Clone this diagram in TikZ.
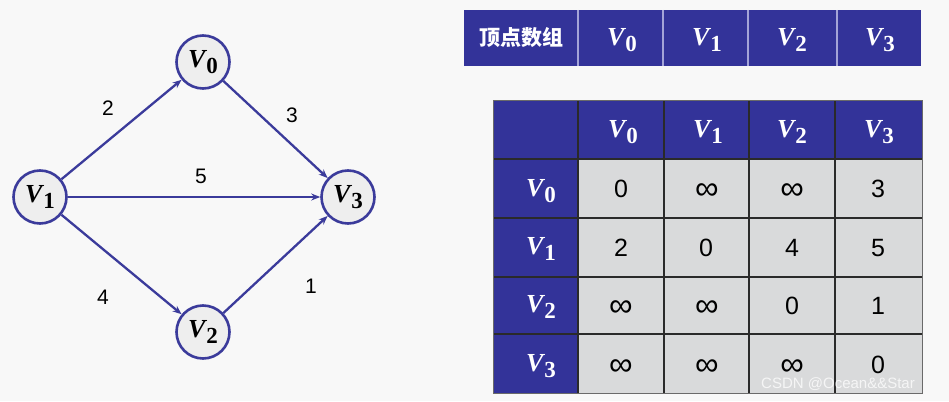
\documentclass[tikz,border=0pt]{standalone}
\usepackage{fontspec}
\usetikzlibrary{arrows.meta}
\newfontfamily\arialf{Liberation Sans}
\newfontfamily\serf{Liberation Serif}
\newfontfamily\cjk{Noto Sans CJK SC}
\definecolor{bg}{HTML}{F8F8F8}
\definecolor{navy}{HTML}{333399}
\definecolor{edgec}{HTML}{3B3B9B}
\definecolor{cellg}{HTML}{D9DADB}
\definecolor{gridc}{HTML}{2A2A2A}
\definecolor{sepc}{HTML}{A4A4D8}
\newcommand{\VV}[1]{{\serf\fontsize{26}{26}\selectfont\bfseries\itshape V}\kern1pt\raisebox{-6pt}{\serf\fontsize{23}{23}\selectfont\bfseries #1}}
\tikzset{
  vert/.style={circle, draw=edgec, line width=2.6pt, fill=bg!96!black, minimum size=53pt, inner sep=0pt, text=black},
  arc/.style={draw=edgec, line width=2.3pt, -{Stealth[length=9pt,width=7pt]}},
  wlab/.style={font=\arialf\fontsize{21}{21}\selectfont, text=black, inner sep=0pt},
  num/.style={font=\arialf\fontsize{25}{25}\selectfont, text=black, inner sep=0pt},
  inf/.style={font=\arialf\fontsize{33}{33}\selectfont, text=black, inner sep=0pt},
  hdr/.style={text=white, inner sep=0pt},
}
\begin{document}
\begin{tikzpicture}[x=1pt,y=-1pt]
\fill[bg] (0,0) rectangle (949,401);
\useasboundingbox (0,0) rectangle (949,401);
% graph
\node[vert] (v0) at (203,62) {\VV{0}};
\node[vert] (v1) at (40,197) {\VV{1}};
\node[vert] (v3) at (348,197) {\VV{3}};
\node[vert] (v2) at (203,332) {\VV{2}};
\draw[arc] (v1) -- (v0);
\draw[arc] (v0) -- (v3);
\draw[arc] (v1) -- (v3);
\draw[arc] (v1) -- (v2);
\draw[arc] (v2) -- (v3);
\node[wlab] (w2) at (108,108) {2};
\node[wlab] (w3) at (292,115) {3};
\node[wlab] (w5) at (201,176) {5};
\node[wlab] (w4) at (103,297) {4};
\node[wlab] (w1) at (311,286) {1};
% top vertex array
\fill[navy] (464,10) rectangle (921,66);
\foreach \x in {578,663,748,837}{\draw[sepc, line width=1.5pt] (\x,10) -- (\x,66);}
\node[hdr, font=\cjk\bfseries\fontsize{21}{21}\selectfont] (arrlab) at (521,38) {顶点数组};
\node[hdr] (a0) at (622,40) {\VV{0}};
\node[hdr] (a1) at (707,40) {\VV{1}};
\node[hdr] (a2) at (792,40) {\VV{2}};
\node[hdr] (a3) at (880,40) {\VV{3}};
% adjacency matrix
\fill[navy] (493,101) rectangle (922,159);
\fill[navy] (493,159) rectangle (578,393);
\fill[cellg] (578,159) rectangle (922,393);
\foreach \x in {578,664,749,835}{\draw[gridc, line width=1.4pt] (\x,101) -- (\x,393);}
\foreach \y in {159,218,277,334}{\draw[gridc, line width=1.4pt] (493,\y) -- (922,\y);}
\draw[gridc!70, line width=1pt] (493,101) rectangle (922,393);
% column headers
\node[hdr] (c0) at (623,132) {\VV{0}};
\node[hdr] (c1) at (708,132) {\VV{1}};
\node[hdr] (c2) at (792,132) {\VV{2}};
\node[hdr] (c3) at (879,132) {\VV{3}};
% row headers
\node[hdr] (r0) at (541,191) {\VV{0}};
\node[hdr] (r1) at (541,249) {\VV{1}};
\node[hdr] (r2) at (541,307) {\VV{2}};
\node[hdr] (r3) at (541,366) {\VV{3}};
% entries
\node[num] (m00) at (621,189) {0};
\node[inf] (m01) at (707,192) {∞};
\node[inf] (m02) at (792,192) {∞};
\node[num] (m03) at (878,189) {3};
\node[num] (m10) at (621,248) {2};
\node[num] (m11) at (706,248) {0};
\node[num] (m12) at (792,248) {4};
\node[num] (m13) at (878,248) {5};
\node[inf] (m20) at (621,309) {∞};
\node[inf] (m21) at (707,309) {∞};
\node[num] (m22) at (792,306) {0};
\node[num] (m23) at (878,306) {1};
\node[inf] (m30) at (621,368) {∞};
\node[inf] (m31) at (707,368) {∞};
\node[inf] (m32) at (792,368) {∞};
\node[num] (m33) at (878,365) {0};
% watermark
\node[font=\arialf\fontsize{15}{15}\selectfont, text=white, opacity=0.75, inner sep=0pt] (wm) at (838,384) {CSDN @Ocean\&\&Star};
\end{tikzpicture}
\end{document}
